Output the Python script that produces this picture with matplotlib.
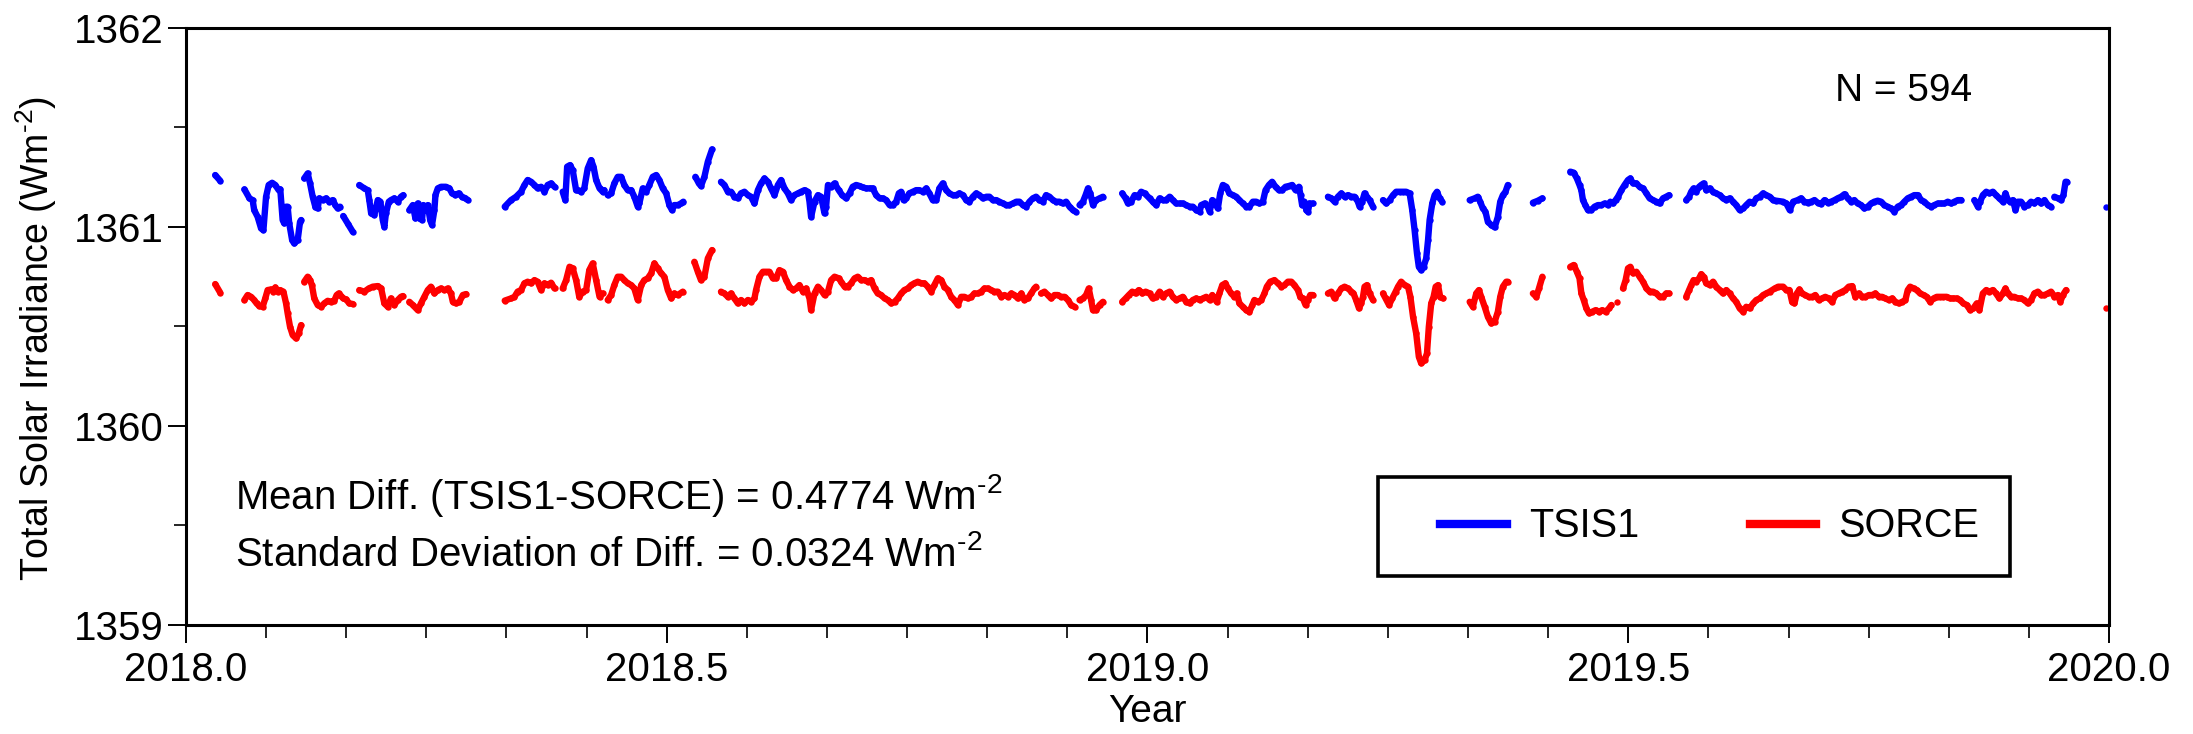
import numpy as np
import matplotlib
matplotlib.use('Agg')
import matplotlib.pyplot as plt
from matplotlib.lines import Line2D
from matplotlib.patches import Rectangle
from matplotlib.ticker import MultipleLocator

plt.rcParams['font.family'] = ['Liberation Sans', 'DejaVu Sans']
plt.rcParams['mathtext.fontset'] = 'custom'
plt.rcParams['mathtext.rm'] = 'Liberation Sans'
plt.rcParams['mathtext.it'] = 'Liberation Sans:italic'
plt.rcParams['mathtext.bf'] = 'Liberation Sans:bold'

nan = np.nan

# days since 2018-01-01 (nan = data gap), TSI in W m-2
tsis_day = [
    11.1, 13.0, nan,
    22.2, 24.1, 25.3, 25.9, 27.2, 28.5, 29.4, 30.4, 31.4, 32.7, 33.9, 35.2, 35.8, 36.7, 37.3, 38.0, 38.6, 39.2, 40.3, 41.1, 42.4, 43.3, 43.7, nan,
    44.9, 46.2, 47.1, 48.1, 49.1, 50.0, 50.6, 51.9, 53.2, 54.4, 55.7, 56.7, 57.6, 58.5, nan,
    59.7, 61.5, 63.3, nan,
    65.8, 67.7, 69.0, 69.6, 70.3, 71.5, 72.8, 73.8, 74.7, 75.3, 75.9, 77.0, 77.8, 79.1, 80.4, 81.6, 82.5, nan,
    84.8, 86.1, 87.1, 88.0, 88.6, 89.6, 90.1, 91.1, 91.8, 92.7, 93.4, 94.3, 94.7, 95.6, 96.8, 98.7, 100.0, 101.0, 102.3, 103.5, 104.8, 106.1, 107.0, nan,
    121.0, 123.4, 125.3, 127.2, 128.5, 129.7, 131.0, 132.3, 133.5, 134.8, 136.1, 137.3, 138.6, 139.9, nan,
    143.0, 144.0, 144.7, 145.8, 146.8, 148.1, 148.7, 150.0, 151.2, 152.5, 153.8, 154.7, 155.7, 157.0, 158.2, 158.8, nan,
    160.1, 161.4, 162.6, 163.9, 165.2, 166.4, 167.7, 169.0, 170.2, 171.5, 172.1, 173.4, 174.7, 175.9, 177.2, 178.5, 179.7, 181.0, 182.3, 183.5, 184.5, 185.4, 186.7, 187.9, 188.8, nan,
    193.4, 194.7, 195.5, 196.8, 198.1, 199.7, nan,
    203.1, 204.4, 205.7, 206.9, 208.2, 209.5, 210.7, 212.0, 213.3, 214.5, 215.8, 217.1, 218.3, 219.6, 220.9, 222.1, 223.4, 224.7, 225.9, 227.2,
    228.5, 229.7, 231.0, 232.3, 233.5, 234.8, 236.1, 236.7, 237.3, 238.6, 239.9, 241.1, 242.4, 243.0, 243.7, 244.9, 246.2,
    247.8, 249.1, 250.6, 251.9, 253.1, 254.4, 255.7, 256.9, 258.2, 259.5, 260.7, 262.0, 263.3, 264.5, 265.8, 267.1, 268.3, 269.6, 270.6, 271.5,
    272.4, 273.4, 274.6, 275.9, 277.2, 278.4, 279.7, 281.0, 282.2, 283.5, 284.8, 286.0, 287.3, 288.6, 289.8, 291.1, 292.4, 293.6, 294.9, 296.2,
    297.4, 298.7, 300.0, 301.2, 302.5, 303.8, 305.0, 306.3, 307.6, 308.8, 310.1, 311.4, 312.6, 313.9, 315.2, 316.4, 317.7, 318.9, 320.2, 321.5,
    322.7, 324.0, 325.3, 326.5, 327.8, 329.1, 330.3, 331.6, 332.9, 334.1, 335.4, 336.7, 337.7, nan,
    339.2, 340.5, 341.5, 342.4, 343.3, 344.3, 345.5, 346.8, 348.1, nan,
    355.4, 356.7, 357.6, 358.8, 360.1, 361.4, 362.6, 363.9,
    365.8, 367.0, 368.3, 369.6, 370.8, 372.1, 373.4, 374.6, 375.9, 377.2, 378.4, 379.7, 381.0, 382.2, 383.5, 384.8, 385.4, 386.7, 387.9, 388.6,
    389.6, 390.4, 391.7, 392.6, 393.6, 394.9, 396.1, 397.4, 398.7, 399.9, 401.2, 402.5, 403.7, 405.0, 406.3, 407.5, 408.8, 409.8, 411.1, 412.3,
    413.6, 414.9, 416.1, 417.4, 418.7, 419.9, 421.2, 422.5, 423.1, 423.7, 424.6, 425.3, 425.9, 426.5, 427.8, nan,
    433.5, 434.8, 436.0, 437.3, 438.6, 439.8, 441.1, 442.4, 443.6, 444.9, 445.5, 446.5, 447.4, 448.3, 449.3, 450.6, nan,
    454.4, 455.6, 456.9, 458.2, 459.4, 460.7, 462.0, 463.2, 464.5, 465.5, 466.4, 467.3, 468.0, 468.9, 469.8, 470.8, 471.5, 472.1, 473.1, 474.0,
    474.9, 475.9, 476.9, nan,
    487.3, 489.2, 490.4, 491.3, 492.3, 493.3, 494.2, 495.5, 496.8, 498.0, 498.9, 499.9, 500.9, 501.8, nan,
    511.3, 513.2, 514.9, nan,
    525.5, 526.8, 528.0, 529.0, 529.7, 530.3, 531.2, 532.2, 533.5, 534.7, 536.0, 537.3, 538.5, 539.8, 540.7, 541.7, 542.7, 543.6, 544.9, 546.1,
    547.4, 548.3, 549.3, 550.6, 551.8, 553.1, 554.4, 555.6, 556.9, 558.2, 559.4, 560.7, 561.9, 563.0, nan,
    569.5, 570.6, 571.4, 572.3, 573.3, 574.4, 575.2, 576.1, 577.1, 578.4, 579.7, 580.9, 582.2, 583.5, 584.7, 586.0, 587.3, 588.5, 589.8, 591.1,
    592.3, 593.6, 594.9, 596.1, 597.4, 598.7, 599.9, 601.2, 602.5, 603.7, 606.3, 607.5, 608.8, 610.1,
    611.8, 613.1, 614.4, 615.6, 616.9, 618.2, 619.4, 620.7, 622.0, 623.2, 624.5, 625.8, 627.0, 628.3, 629.6, 630.8, 632.1, 633.3, 634.6, 635.9,
    637.1, 638.4, 639.7, 640.9, 642.2, 643.5, 644.7, 646.0, 647.3, 648.5, 649.8, 651.1, 652.3, 653.6, 654.9, 656.1, 657.4, 658.7, 659.9, 661.2,
    662.5, 663.7, 665.0, 666.3, 667.5, 668.8, 670.1, 671.3, 672.6, 673.9, nan,
    678.9, 680.2, 681.1, 682.1, 683.4, 684.6, 685.9, 687.1, 688.4, 689.7, 690.7, 691.6, 692.5, 693.5, 694.5, 695.4, 696.6, 697.9, 699.2, 700.4,
    701.7, 703.0, 704.2, 705.5, 706.8, 708.0, nan,
    709.3, 710.6, 711.8, 712.7, 713.5, 714.0, nan,
    728.9,
]
tsis_val = [
    1361.261, 1361.232, nan,
    1361.189, 1361.144, 1361.135, 1361.085, 1361.051, 1360.993, 1360.984, 1361.152, 1361.211, 1361.222, 1361.211, 1361.185, 1361.189, 1361.035, 1361.018, 1361.102, 1361.102, 1361.018, 1360.934, 1360.917, 1360.934, 1361.026, 1361.035, nan,
    1361.244, 1361.269, 1361.219, 1361.152, 1361.102, 1361.093, 1361.144, 1361.135, 1361.144, 1361.127, 1361.135, 1361.110, 1361.093, 1361.102, nan,
    1361.055, 1361.015, 1360.976, nan,
    1361.211, 1361.194, 1361.185, 1361.135, 1361.068, 1361.060, 1361.135, 1361.127, 1361.035, 1361.001, 1361.068, 1361.127, 1361.135, 1361.144, 1361.127, 1361.152, 1361.160, nan,
    1361.085, 1361.110, 1361.043, 1361.118, 1361.043, 1361.035, 1361.110, 1361.085, 1361.110, 1361.035, 1361.010, 1361.085, 1361.160, 1361.194, 1361.202, 1361.202, 1361.194, 1361.169, 1361.160, 1361.169, 1361.152, 1361.144, 1361.135, nan,
    1361.102, 1361.135, 1361.152, 1361.177, 1361.211, 1361.236, 1361.227, 1361.211, 1361.194, 1361.202, 1361.177, 1361.211, 1361.219, 1361.202, nan,
    1361.177, 1361.135, 1361.303, 1361.311, 1361.286, 1361.185, 1361.185, 1361.177, 1361.194, 1361.294, 1361.336, 1361.303, 1361.236, 1361.194, 1361.177, 1361.185, nan,
    1361.160, 1361.169, 1361.219, 1361.252, 1361.252, 1361.211, 1361.185, 1361.185, 1361.152, 1361.102, 1361.118, 1361.194, 1361.177, 1361.211, 1361.252, 1361.261, 1361.236, 1361.194, 1361.169, 1361.110, 1361.085, 1361.110, 1361.110, 1361.118, 1361.127, nan,
    1361.252, 1361.219, 1361.206, 1361.252, 1361.328, 1361.390, nan,
    1361.227, 1361.211, 1361.177, 1361.177, 1361.152, 1361.144, 1361.169, 1361.177, 1361.160, 1361.152, 1361.118, 1361.185, 1361.219, 1361.244, 1361.227, 1361.194, 1361.160, 1361.211, 1361.236, 1361.194,
    1361.169, 1361.135, 1361.160, 1361.169, 1361.177, 1361.185, 1361.177, 1361.127, 1361.051, 1361.127, 1361.160, 1361.152, 1361.068, 1361.102, 1361.211, 1361.202, 1361.219,
    1361.185, 1361.160, 1361.144, 1361.169, 1361.202, 1361.211, 1361.206, 1361.199, 1361.194, 1361.194, 1361.194, 1361.160, 1361.144, 1361.144, 1361.135, 1361.110, 1361.110, 1361.127, 1361.169, 1361.177,
    1361.135, 1361.144, 1361.169, 1361.177, 1361.185, 1361.185, 1361.177, 1361.194, 1361.169, 1361.135, 1361.135, 1361.194, 1361.219, 1361.185, 1361.169, 1361.160, 1361.160, 1361.169, 1361.160, 1361.135,
    1361.127, 1361.152, 1361.169, 1361.160, 1361.144, 1361.152, 1361.152, 1361.135, 1361.135, 1361.127, 1361.118, 1361.110, 1361.110, 1361.118, 1361.127, 1361.127, 1361.110, 1361.102, 1361.127, 1361.144,
    1361.152, 1361.135, 1361.127, 1361.160, 1361.152, 1361.135, 1361.127, 1361.127, 1361.118, 1361.127, 1361.102, 1361.085, 1361.077, nan,
    1361.110, 1361.127, 1361.160, 1361.194, 1361.169, 1361.110, 1361.135, 1361.144, 1361.152, nan,
    1361.169, 1361.144, 1361.118, 1361.127, 1361.160, 1361.152, 1361.177, 1361.169,
    1361.144, 1361.127, 1361.110, 1361.144, 1361.135, 1361.135, 1361.152, 1361.135, 1361.118, 1361.118, 1361.118, 1361.110, 1361.102, 1361.102, 1361.085, 1361.077, 1361.110, 1361.118, 1361.102, 1361.077,
    1361.135, 1361.127, 1361.093, 1361.169, 1361.211, 1361.202, 1361.169, 1361.160, 1361.152, 1361.135, 1361.118, 1361.102, 1361.102, 1361.127, 1361.127, 1361.118, 1361.127, 1361.185, 1361.211, 1361.227,
    1361.202, 1361.185, 1361.185, 1361.202, 1361.206, 1361.211, 1361.185, 1361.202, 1361.160, 1361.110, 1361.127, 1361.085, 1361.077, 1361.118, 1361.118, nan,
    1361.152, 1361.144, 1361.127, 1361.152, 1361.169, 1361.152, 1361.160, 1361.152, 1361.152, 1361.127, 1361.102, 1361.127, 1361.169, 1361.152, 1361.135, 1361.102, nan,
    1361.135, 1361.118, 1361.135, 1361.160, 1361.177, 1361.177, 1361.177, 1361.177, 1361.169, 1361.085, 1360.984, 1360.867, 1360.800, 1360.783, 1360.800, 1360.842, 1360.934, 1361.035, 1361.118, 1361.160,
    1361.177, 1361.144, 1361.127, nan,
    1361.135, 1361.144, 1361.152, 1361.127, 1361.093, 1361.077, 1361.026, 1361.010, 1360.998, 1361.051, 1361.127, 1361.160, 1361.177, 1361.211, nan,
    1361.122, 1361.132, 1361.144, nan,
    1361.278, 1361.273, 1361.244, 1361.211, 1361.185, 1361.135, 1361.110, 1361.085, 1361.085, 1361.102, 1361.110, 1361.110, 1361.118, 1361.110, 1361.127, 1361.118, 1361.135, 1361.152, 1361.185, 1361.211,
    1361.236, 1361.244, 1361.219, 1361.219, 1361.202, 1361.194, 1361.169, 1361.144, 1361.135, 1361.127, 1361.118, 1361.144, 1361.152, 1361.160, nan,
    1361.135, 1361.152, 1361.177, 1361.194, 1361.177, 1361.202, 1361.211, 1361.219, 1361.185, 1361.194, 1361.177, 1361.169, 1361.160, 1361.144, 1361.135, 1361.144, 1361.127, 1361.110, 1361.085, 1361.093,
    1361.110, 1361.127, 1361.118, 1361.144, 1361.152, 1361.169, 1361.160, 1361.152, 1361.135, 1361.132, 1361.127, 1361.118, 1361.085, 1361.127,
    1361.135, 1361.144, 1361.127, 1361.122, 1361.127, 1361.135, 1361.122, 1361.115, 1361.135, 1361.122, 1361.127, 1361.135, 1361.144, 1361.152, 1361.165, 1361.144, 1361.127, 1361.135, 1361.118, 1361.110,
    1361.093, 1361.102, 1361.118, 1361.127, 1361.132, 1361.127, 1361.110, 1361.102, 1361.093, 1361.077, 1361.102, 1361.110, 1361.127, 1361.144, 1361.152, 1361.160, 1361.160, 1361.135, 1361.127, 1361.110,
    1361.102, 1361.110, 1361.118, 1361.118, 1361.118, 1361.127, 1361.118, 1361.127, 1361.135, 1361.135, nan,
    1361.135, 1361.102, 1361.127, 1361.160, 1361.177, 1361.169, 1361.177, 1361.160, 1361.144, 1361.127, 1361.169, 1361.135, 1361.127, 1361.135, 1361.085, 1361.127, 1361.127, 1361.102, 1361.110, 1361.127,
    1361.118, 1361.135, 1361.118, 1361.135, 1361.110, 1361.102, nan,
    1361.152, 1361.144, 1361.135, 1361.160, 1361.227, 1361.227, nan,
    1361.102,
]

sorce_day = [
    11.1, 13.0, nan,
    22.2, 23.4, 24.7, 25.9, 26.8, 27.8, 29.1, 30.1, 31.0, 32.3, 33.2, 33.9, 34.8, 35.7, 37.0, 38.0, 38.6, 39.5, 40.5, 41.8, 42.8, 43.7, nan,
    44.9, 46.2, 47.1, 47.8, 48.7, 50.0, 51.3, 52.5, 53.8, 55.1, 56.3, 57.2, 58.0, 58.9, 59.7, 60.8, 62.0, 63.3, nan,
    65.8, 67.7, 69.4, 70.9, 72.8, 74.1, 75.3, 76.6, 77.8, 79.1, 80.4, 81.6, 82.3, nan,
    84.8, 86.1, 88.0, 89.2, 90.5, 91.8, 93.0, 94.3, 95.6, 96.8, 98.1, 99.4, 100.6, 101.3, 102.5, 103.8, 105.1, 106.3, nan,
    121.0, 123.4, 124.7, 125.9, 127.2, 128.5, 129.7, 131.0, 132.3, 133.5, 134.8, 136.1, 137.3, 138.6, 139.9, nan,
    143.0, 144.3, 145.6, 146.8, 148.1, 149.3, 150.6, 151.9, 153.1, 154.4, 155.7, 157.0, 158.2, nan,
    160.1, 161.4, 162.6, 163.9, 165.2, 166.4, 167.7, 169.0, 170.2, 171.5, 172.8, 174.0, 175.3, 176.6, 177.8, 179.1, 180.4, 181.6, 182.9, 184.2,
    185.4, 186.7, 188.6, nan,
    193.0, 194.3, 195.5, 196.8, 198.1, 199.7, nan,
    203.1, 204.4, 205.7, 206.9, 208.2, 209.5, 210.7, 212.0, 213.3, 214.5, 215.8, 216.4, 217.7, 219.0, 220.2, 221.5, 222.8, 224.0, 225.3, 226.6,
    227.8, 229.1, 230.4, 231.6, 232.9, 234.2, 235.4, 236.7, 237.3, 238.6, 239.9, 241.1, 242.4, 243.7, 244.9, 246.2,
    247.8, 248.7, 250.0, 251.2, 252.5, 253.8, 255.0, 256.3, 257.6, 258.8, 260.1, 261.4, 262.6, 263.9, 265.2, 266.4, 267.7, 269.0, 270.2, 271.5,
    272.7, 274.0, 275.3, 276.5, 277.8, 279.1, 280.3, 281.6, 282.9, 284.1, 285.4, 286.7, 287.9, 289.2, 290.5, 291.7, 293.0, 294.3, 295.5, 296.8,
    298.1, 299.3, 300.6, 301.9, 303.1, 304.4, 305.7, 306.9, 308.2, 309.5, 310.7, 312.0, 313.3, 314.5, 315.8, 317.1, 318.3, 319.6, 320.8, 322.1,
    322.7, nan,
    324.6, 325.9, 327.2, 328.4, 329.7, 331.0, 332.2, 333.5, 334.8, 336.0, 337.3, nan,
    339.2, 340.5, 341.7, 342.7, 343.6, 344.3, 345.5, 346.8, 348.1, nan,
    355.4, 356.7, 357.9, 359.2, 360.5, 361.7, 363.0, 364.3,
    365.8, 367.0, 368.3, 369.6, 370.8, 372.1, 373.4, 374.6, 375.9, 377.2, 378.4, 379.7, 381.0, 382.2, 383.5, 384.8, 386.0, 387.3, 388.6, 389.6,
    390.4, 391.3, 392.3, 393.4, 394.6, 395.5, 396.8, 398.0, 398.9, 399.9, 401.2, 402.5, 403.7, 404.8, 405.6, 406.9, 408.2, 409.4, 410.3, 411.6,
    413.2, 414.5, 415.8, 417.0, 418.3, 419.6, 420.8, 422.1, 423.0, 424.0, 425.0, 425.9, 426.8, 427.8, nan,
    433.5, 434.8, 436.0, 437.3, 438.6, 439.8, 441.1, 442.4, 443.2, 444.2, 445.3, 446.1, 446.8, 447.4, 448.3, 449.3, 450.6, nan,
    454.4, 455.4, 456.7, 457.9, 459.2, 460.1, 461.3, 462.6, 463.9, 464.8, 465.8, 467.0, 468.0, 468.9, 470.2, 471.1, 471.8, 472.7, 473.6, 474.4,
    475.3, 476.1, 477.2, nan,
    487.3, 488.5, 489.8, 490.8, 491.7, 493.0, 494.2, 495.5, 496.8, 498.0, 498.9, 499.9, 501.2, 501.8, nan,
    511.3, 512.6, 513.6, 514.9, nan,
    525.5, 526.8, 528.0, 529.0, 529.7, 530.6, 531.6, 532.6, 533.8, 535.1, 536.4, 537.6, 538.9, 540.2, 541.1, nan,
    543.2, nan,
    545.5, 546.5, 547.4, 548.3, 549.3, 550.6, 551.8, 553.1, 554.4, 555.6, 556.9, 558.2, 559.4, 560.7, 561.9, 563.0, nan,
    569.5, 570.6, 571.4, 572.3, 573.3, 574.4, 575.2, 576.1, 577.1, 578.4, 579.7, 580.9, 582.2, 583.5, 584.7, 586.0, 587.3, 588.5, 589.8, 591.1,
    592.3, 593.6, 594.9, 596.1, 597.4, 598.7, 599.9, 601.2, 603.1, 604.4, 606.3, 607.5,
    608.7, 609.7, 610.6, 611.5, 612.5, 613.5, 614.7, 616.0, 617.3, 618.5, 619.8, 621.1, 622.3, 623.6, 624.9, 626.1, 627.4, 628.7, 629.9, 631.2,
    632.5, 633.7, 635.0, 636.3, 637.5, 638.8, 640.1, 641.3, 642.6, 643.9, 645.1, 646.4, 647.7, 648.9, 650.2, 651.5, 652.7, 653.6, 654.5, 655.8,
    657.0, 658.3, 659.6, 660.8, 662.1, 663.4, 664.6, 665.9, 667.1, 668.4, 669.7, 670.9, 672.2, 673.5, 674.7, 676.0, 677.3, 678.5, 679.8, 680.8,
    682.1, 683.4, 684.6, 685.9, 687.1, 688.4, 689.7, 690.7, 691.6, 692.8, 694.1, 695.4, 696.6, 697.9, 699.2, 700.4, 701.7, 703.0, 704.2, 705.5,
    706.8, 708.0, 709.3, 710.6, 711.5, 712.5, 713.7, nan,
    728.9,
]
sorce_val = [
    1360.713, 1360.670, nan,
    1360.633, 1360.658, 1360.649, 1360.633, 1360.616, 1360.603, 1360.599, 1360.641, 1360.683, 1360.686, 1360.675, 1360.696, 1360.675, 1360.683, 1360.675, 1360.616, 1360.566, 1360.499, 1360.457, 1360.440, 1360.465, 1360.507, nan,
    1360.725, 1360.750, 1360.733, 1360.708, 1360.641, 1360.608, 1360.599, 1360.616, 1360.629, 1360.624, 1360.629, 1360.658, 1360.666, 1360.653, 1360.641, 1360.636, 1360.616, 1360.613, nan,
    1360.683, 1360.675, 1360.691, 1360.700, 1360.703, 1360.691, 1360.616, 1360.599, 1360.641, 1360.608, 1360.633, 1360.649, 1360.653, nan,
    1360.624, 1360.608, 1360.582, 1360.616, 1360.649, 1360.683, 1360.700, 1360.666, 1360.683, 1360.691, 1360.683, 1360.691, 1360.666, 1360.624, 1360.616, 1360.624, 1360.658, 1360.663, nan,
    1360.630, 1360.641, 1360.649, 1360.675, 1360.683, 1360.717, 1360.725, 1360.717, 1360.733, 1360.725, 1360.683, 1360.717, 1360.708, 1360.720, 1360.691, nan,
    1360.691, 1360.733, 1360.800, 1360.792, 1360.733, 1360.649, 1360.675, 1360.683, 1360.783, 1360.817, 1360.733, 1360.649, 1360.666, nan,
    1360.633, 1360.658, 1360.708, 1360.750, 1360.750, 1360.733, 1360.717, 1360.708, 1360.691, 1360.633, 1360.708, 1360.733, 1360.742, 1360.767, 1360.817, 1360.792, 1360.767, 1360.750, 1360.683, 1360.641,
    1360.666, 1360.658, 1360.675, nan,
    1360.825, 1360.775, 1360.733, 1360.750, 1360.842, 1360.884, nan,
    1360.675, 1360.666, 1360.649, 1360.666, 1360.641, 1360.616, 1360.633, 1360.616, 1360.633, 1360.624, 1360.641, 1360.683, 1360.750, 1360.775, 1360.775, 1360.775, 1360.742, 1360.742, 1360.783, 1360.775,
    1360.733, 1360.700, 1360.683, 1360.691, 1360.708, 1360.675, 1360.691, 1360.641, 1360.582, 1360.666, 1360.700, 1360.683, 1360.658, 1360.675, 1360.733, 1360.750,
    1360.742, 1360.725, 1360.700, 1360.700, 1360.717, 1360.742, 1360.750, 1360.733, 1360.733, 1360.725, 1360.733, 1360.691, 1360.666, 1360.658, 1360.641, 1360.633, 1360.616, 1360.624, 1360.641, 1360.666,
    1360.683, 1360.691, 1360.708, 1360.717, 1360.725, 1360.717, 1360.717, 1360.700, 1360.675, 1360.708, 1360.742, 1360.733, 1360.700, 1360.683, 1360.649, 1360.633, 1360.608, 1360.649, 1360.649, 1360.641,
    1360.649, 1360.666, 1360.666, 1360.675, 1360.691, 1360.691, 1360.683, 1360.675, 1360.675, 1360.649, 1360.658, 1360.649, 1360.666, 1360.658, 1360.641, 1360.666, 1360.633, 1360.641, 1360.666, 1360.691,
    1360.700, nan,
    1360.666, 1360.675, 1360.658, 1360.641, 1360.658, 1360.658, 1360.649, 1360.649, 1360.633, 1360.608, 1360.599, nan,
    1360.633, 1360.641, 1360.658, 1360.691, 1360.633, 1360.582, 1360.582, 1360.608, 1360.624, nan,
    1360.624, 1360.641, 1360.658, 1360.675, 1360.666, 1360.683, 1360.666, 1360.675,
    1360.666, 1360.641, 1360.649, 1360.675, 1360.649, 1360.666, 1360.675, 1360.649, 1360.633, 1360.641, 1360.649, 1360.624, 1360.616, 1360.633, 1360.641, 1360.633, 1360.641, 1360.649, 1360.633, 1360.658,
    1360.641, 1360.624, 1360.666, 1360.708, 1360.717, 1360.691, 1360.666, 1360.649, 1360.666, 1360.616, 1360.599, 1360.582, 1360.574, 1360.608, 1360.633, 1360.624, 1360.633, 1360.666, 1360.700, 1360.725,
    1360.733, 1360.717, 1360.700, 1360.708, 1360.725, 1360.725, 1360.708, 1360.683, 1360.649, 1360.641, 1360.608, 1360.633, 1360.658, 1360.658, nan,
    1360.666, 1360.675, 1360.641, 1360.666, 1360.691, 1360.700, 1360.691, 1360.675, 1360.666, 1360.633, 1360.591, 1360.616, 1360.649, 1360.700, 1360.708, 1360.666, 1360.633, nan,
    1360.666, 1360.641, 1360.608, 1360.641, 1360.675, 1360.700, 1360.725, 1360.708, 1360.700, 1360.649, 1360.549, 1360.465, 1360.348, 1360.315, 1360.331, 1360.365, 1360.499, 1360.616, 1360.649, 1360.700,
    1360.708, 1360.649, 1360.641, nan,
    1360.624, 1360.599, 1360.666, 1360.683, 1360.649, 1360.599, 1360.549, 1360.515, 1360.524, 1360.574, 1360.649, 1360.700, 1360.725, 1360.725, nan,
    1360.666, 1360.649, 1360.691, 1360.750, nan,
    1360.800, 1360.809, 1360.775, 1360.742, 1360.666, 1360.633, 1360.591, 1360.566, 1360.574, 1360.582, 1360.574, 1360.582, 1360.574, 1360.591, 1360.608, nan,
    1360.624, nan,
    1360.691, 1360.733, 1360.792, 1360.800, 1360.767, 1360.775, 1360.750, 1360.725, 1360.691, 1360.675, 1360.675, 1360.666, 1360.649, 1360.649, 1360.666, 1360.666, nan,
    1360.649, 1360.683, 1360.708, 1360.733, 1360.725, 1360.742, 1360.763, 1360.750, 1360.717, 1360.708, 1360.725, 1360.700, 1360.683, 1360.666, 1360.683, 1360.666, 1360.641, 1360.624, 1360.591, 1360.574,
    1360.599, 1360.591, 1360.616, 1360.633, 1360.641, 1360.658, 1360.666, 1360.675, 1360.691, 1360.700, 1360.700, 1360.683,
    1360.683, 1360.624, 1360.616, 1360.666, 1360.686, 1360.666, 1360.658, 1360.649, 1360.649, 1360.658, 1360.633, 1360.641, 1360.649, 1360.641, 1360.624, 1360.658, 1360.666, 1360.675, 1360.683, 1360.700,
    1360.703, 1360.649, 1360.666, 1360.649, 1360.649, 1360.658, 1360.658, 1360.666, 1360.649, 1360.649, 1360.641, 1360.633, 1360.641, 1360.624, 1360.616, 1360.624, 1360.633, 1360.683, 1360.700, 1360.691,
    1360.683, 1360.666, 1360.658, 1360.649, 1360.624, 1360.641, 1360.649, 1360.649, 1360.649, 1360.649, 1360.641, 1360.641, 1360.641, 1360.633, 1360.616, 1360.608, 1360.582, 1360.591, 1360.616, 1360.582,
    1360.666, 1360.683, 1360.675, 1360.683, 1360.666, 1360.641, 1360.666, 1360.691, 1360.666, 1360.649, 1360.649, 1360.641, 1360.641, 1360.633, 1360.616, 1360.633, 1360.666, 1360.675, 1360.658, 1360.658,
    1360.666, 1360.675, 1360.649, 1360.658, 1360.624, 1360.658, 1360.683, nan,
    1360.591,
]

series_names = ['TSIS1', 'SORCE']
series_colors = ['#0000ff', '#ff0000']
year_ticks = [2018.0, 2018.5, 2019.0, 2019.5, 2020.0]
tsi_ticks = [1359, 1360, 1361, 1362]
n_days = 594
mean_diff = 0.4774
std_diff = 0.0324

assert len(tsis_day) == len(tsis_val)
assert len(sorce_day) == len(sorce_val)

tsis_x = 2018 + np.array(tsis_day) / 365.0
sorce_x = 2018 + np.array(sorce_day) / 365.0

fig = plt.figure(figsize=(21.93, 7.34), dpi=100)
ax = fig.add_axes([0.0848, 0.1485, 0.8769, 0.8134])

lw = 4.6
for xs, ys, c in [(tsis_x, tsis_val, series_colors[0]), (sorce_x, sorce_val, series_colors[1])]:
    ax.plot(xs, ys, color=c, lw=lw, marker='o', ms=lw, mew=0,
            solid_capstyle='round', solid_joinstyle='round')

ax.set_xlim(2018, 2020)
ax.set_ylim(1359, 1362)
ax.set_xticks(year_ticks)
ax.set_xticklabels([f'{t:.1f}' for t in year_ticks])
ax.xaxis.set_minor_locator(MultipleLocator(1 / 12))
ax.set_yticks(tsi_ticks)
ax.yaxis.set_minor_locator(MultipleLocator(0.5))
ax.tick_params(which='major', direction='out', length=13, width=1.4, labelsize=29)
ax.tick_params(which='minor', direction='out', length=9, width=1.2)
ax.tick_params(axis='y', which='major', pad=3)
ax.tick_params(axis='x', which='major', pad=6)
for s in ax.spines.values():
    s.set_linewidth(2.2)

unit = r'Wm$^{\text{-2}}$'
ax.set_xlabel('Year', fontsize=28)
ax.xaxis.set_label_coords(0.5, -0.115)
ax.set_ylabel('Total Solar Irradiance (' + unit + ')', fontsize=27)
ax.yaxis.set_label_coords(-0.066, 0.48)

ax.text(0.893, 0.878, f'N = {n_days}', transform=ax.transAxes, ha='center', va='baseline', fontsize=28)
ax.text(0.0255, 0.194, f'Mean Diff. (TSIS1-SORCE) = {mean_diff:.4f} ' + unit,
        transform=ax.transAxes, va='baseline', fontsize=29)
ax.text(0.0255, 0.099, f'Standard Deviation of Diff. = {std_diff:.4f} ' + unit,
        transform=ax.transAxes, va='baseline', fontsize=29)

# legend: framed box drawn separately, entries centred inside
ax.add_patch(Rectangle((0.620, 0.082), 0.3285, 0.166, transform=ax.transAxes,
                       fill=False, lw=2.6, ec='black', zorder=5))
handles = [Line2D([], [], color=c, lw=6) for c in series_colors]
ax.legend(handles, series_names, ncol=2, frameon=False, loc='center',
          bbox_to_anchor=(0.7925, 0.165), fontsize=28.5, handlelength=1.68,
          handletextpad=0.56, columnspacing=2.8)

fig.savefig('out.png', dpi=100)
